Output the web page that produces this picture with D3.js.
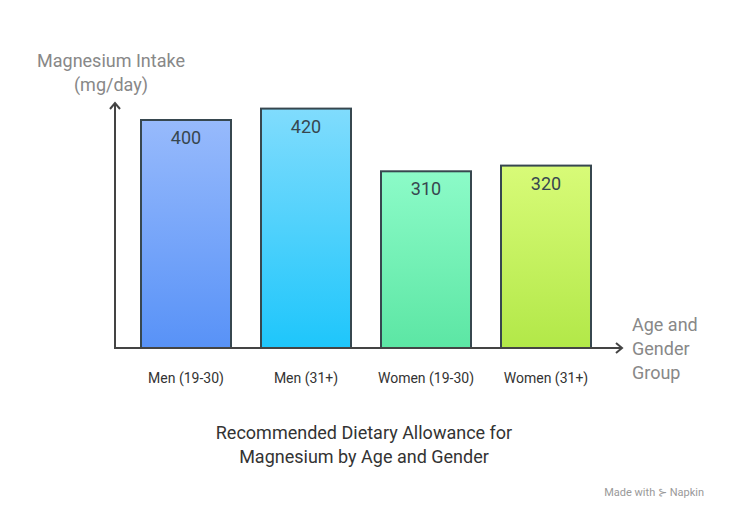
<!DOCTYPE html>
<html><head><meta charset="utf-8">
<script src="https://cdn.jsdelivr.net/npm/d3@7"></script>
<style>body{margin:0;background:#fff}text{font-family:Roboto,"Noto Sans",sans-serif}</style>
</head><body><div id="chart"></div>
<script>
const categories = ["Men (19-30)", "Men (31+)", "Women (19-30)", "Women (31+)"];
const values = [400, 420, 310, 320];
const topColors = ["#97bafc", "#80dcfd", "#8cfbc8", "#d8fb78"];
const bottomColors = ["#5892f7", "#1ec6fb", "#5ce6a4", "#b2e848"];

var svg = d3.select("#chart").append("svg").attr("width", 738).attr("height", 516);
var axisX = 115, baseY = 348;

var x = d3.scaleBand().domain(categories).range([126, 606]).paddingInner(0.25).paddingOuter(0.125);
var y = d3.scaleLinear().domain([0, 400]).range([baseY, 120]);

var defs = svg.append("defs");
categories.forEach(function(c, i) {
    var g = defs.append("linearGradient").attr("id", "g" + i).attr("x1", 0).attr("y1", 0).attr("x2", 0).attr("y2", 1);
    g.append("stop").attr("offset", "0%").attr("stop-color", topColors[i]);
    g.append("stop").attr("offset", "100%").attr("stop-color", bottomColors[i]);
});

svg.selectAll(".bar").data(values).enter().append("rect")
    .attr("x", function(d, i) { return x(categories[i]) })
    .attr("y", function(d) { return y(d) })
    .attr("width", x.bandwidth())
    .attr("height", function(d) { return baseY - y(d) })
    .attr("fill", function(d, i) { return "url(#g" + i + ")" })
    .attr("stroke", "#37474f").attr("stroke-width", 2);

svg.selectAll(".val").data(values).enter().append("text")
    .attr("x", function(d, i) { return x(categories[i]) + x.bandwidth() / 2 })
    .attr("y", function(d) { return y(d) + 24 })
    .attr("text-anchor", "middle").attr("font-size", 18).attr("fill", "#37474f")
    .text(function(d) { return d });

svg.selectAll(".cat").data(categories).enter().append("text")
    .attr("x", function(d) { return x(d) + x.bandwidth() / 2 })
    .attr("y", 383).attr("text-anchor", "middle").attr("font-size", 14).attr("fill", "#333")
    .text(function(d) { return d });

var axisColor = "#444";
svg.append("line").attr("x1", axisX).attr("y1", baseY).attr("x2", axisX).attr("y2", 103).attr("stroke", axisColor).attr("stroke-width", 2);
svg.append("path").attr("d", "M" + (axisX - 5) + ",109L" + axisX + ",103L" + (axisX + 5) + ",109").attr("fill", "none").attr("stroke", axisColor).attr("stroke-width", 2);
svg.append("line").attr("x1", axisX - 1).attr("y1", baseY).attr("x2", 622).attr("y2", baseY).attr("stroke", axisColor).attr("stroke-width", 2);
svg.append("path").attr("d", "M616," + (baseY - 5) + "L622," + baseY + "L616," + (baseY + 5)).attr("fill", "none").attr("stroke", axisColor).attr("stroke-width", 2);

svg.append("text").attr("x", 111).attr("y", 67).attr("text-anchor", "middle").attr("font-size", 18).attr("fill", "#888").text("Magnesium Intake");
svg.append("text").attr("x", 111).attr("y", 91).attr("text-anchor", "middle").attr("font-size", 18).attr("fill", "#888").text("(mg/day)");
["Age and", "Gender", "Group"].forEach(function(t, i) {
    svg.append("text").attr("x", 632).attr("y", 331 + i * 24).attr("font-size", 18).attr("fill", "#888").text(t);
});

svg.append("text").attr("x", 364).attr("y", 439).attr("text-anchor", "middle").attr("font-size", 18).attr("fill", "#333").text("Recommended Dietary Allowance for");
svg.append("text").attr("x", 364).attr("y", 463).attr("text-anchor", "middle").attr("font-size", 18).attr("fill", "#333").text("Magnesium by Age and Gender");

svg.append("text").attr("x", 704).attr("y", 496).attr("text-anchor", "end").attr("font-size", 11).attr("fill", "#999").text("Made with ⊱ Napkin");
</script></body></html>
